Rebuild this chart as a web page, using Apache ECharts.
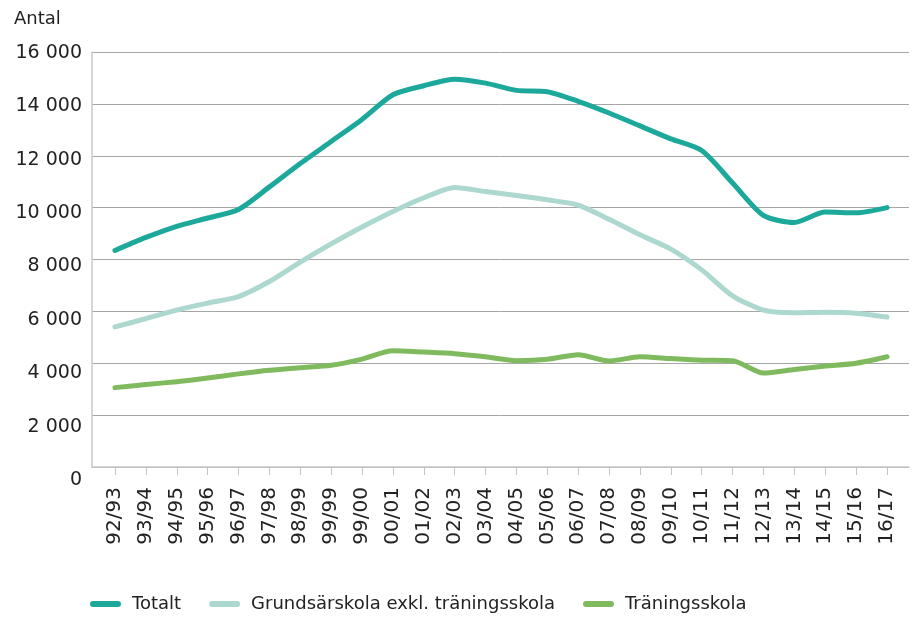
<!DOCTYPE html>
<html>
<head>
<meta charset="utf-8">
<script src="https://cdn.jsdelivr.net/npm/echarts@6/dist/echarts.min.js"></script>
<style>
  html, body { margin: 0; padding: 0; background: #fff; }
  #chart { width: 916px; height: 617px; }
</style>
</head>
<body>
<div id="chart"></div>
<script>
const categories = ['92/93','93/94','94/95','95/96','96/97','97/98','98/99','99/99','99/00','00/01','01/02','02/03','03/04','04/05','05/06','06/07','07/08','08/09','09/10','10/11','11/12','12/13','13/14','14/15','15/16','16/17'];
const totalt = [8350, 8850, 9280, 9600, 9930, 10800, 11700, 12550, 13400, 14350, 14700, 14950, 14800, 14520, 14470, 14100, 13650, 13150, 12650, 12200, 10950, 9700, 9430, 9830, 9800, 10000];
const grundsarskola = [5400, 5720, 6050, 6320, 6570, 7150, 7900, 8600, 9250, 9850, 10380, 10780, 10620, 10470, 10300, 10100, 9550, 8950, 8400, 7600, 6600, 6050, 5950, 5970, 5930, 5780];
const traningsskola = [3060, 3180, 3290, 3430, 3590, 3730, 3830, 3920, 4160, 4480, 4430, 4370, 4250, 4100, 4150, 4330, 4090, 4250, 4180, 4120, 4100, 3620, 3760, 3890, 4000, 4250];
const seriesNames = ['Totalt', 'Grundsärskola exkl. träningsskola', 'Träningsskola'];
const colors = ['#1ca99b', '#acd8cf', '#7fbb5e'];

const FONT = 'DejaVu Sans';
const chart = echarts.init(document.getElementById('chart'), null, { renderer: 'canvas' });

function lineSeries(name, data, color) {
  return {
    name: name,
    type: 'line',
    xAxisIndex: 1,
    yAxisIndex: 1,
    data: data,
    smooth: 0.25,
    showSymbol: false,
    symbol: 'none',
    lineStyle: { color: color, width: 5, cap: 'round', join: 'round' },
    itemStyle: { color: color },
    emphasis: { disabled: true },
    animation: false
  };
}

chart.setOption({
  animation: false,
  title: {
    text: 'Antal',
    left: 9,
    top: 5,
    textStyle: { fontFamily: FONT, fontSize: 18, fontWeight: 'normal', color: '#222' }
  },
  legend: {
    left: 85,
    top: 590,
    itemWidth: 31,
    itemHeight: 6,
    itemGap: 28,
    icon: 'path://M3,0 H28 A3,3 0 0 1 28,6 H3 A3,3 0 0 1 3,0 Z',
    textStyle: { fontFamily: FONT, fontSize: 18, color: '#222', padding: [0, 0, 0, 6] },
    data: seriesNames
  },
  grid: [
    { left: 92, right: 7, top: 52, bottom: 150 },
    { left: 99.55, right: 13.55, top: 52, bottom: 150 },
    { left: 92, right: 7, top: 53, bottom: 137 }
  ],
  xAxis: [
    {
      gridIndex: 0, type: 'value', min: 0, max: 1,
      axisLine: { show: true, onZero: false, lineStyle: { color: '#c9c9c9', width: 1.5 } },
      axisTick: { show: false }, axisLabel: { show: false }, splitLine: { show: false }
    },
    {
      gridIndex: 1, type: 'category', data: categories, boundaryGap: true,
      axisLine: { show: false },
      axisTick: { show: true, alignWithLabel: true, length: 8, lineStyle: { color: '#c4c4c4', width: 1 } },
      axisLabel: { rotate: 90, margin: 20, interval: 0, fontFamily: FONT, fontSize: 20, color: '#222' },
      splitLine: { show: false }
    },
    {
      gridIndex: 2, type: 'value', min: 0, max: 1, show: false
    }
  ],
  yAxis: [
    {
      gridIndex: 0, type: 'value', min: 0, max: 16000, interval: 2000,
      axisLine: { show: true, lineStyle: { color: '#c9c9c9', width: 1.5 } },
      axisTick: { show: false }, axisLabel: { show: false },
      splitLine: { show: true, lineStyle: { color: '#a6a6a6', width: 1 } }
    },
    {
      gridIndex: 1, type: 'value', min: 0, max: 16000, interval: 2000, show: false
    },
    {
      gridIndex: 2, type: 'value', min: 0, max: 16000, interval: 2000,
      axisLine: { show: false }, axisTick: { show: false }, splitLine: { show: false },
      axisLabel: {
        margin: 10, fontFamily: FONT, fontSize: 19, color: '#222',
        formatter: function (v) { return v === 0 ? '0' : String(v).replace(/\B(?=(\d{3})+(?!\d))/g, ' '); }
      }
    }
  ],
  series: [
    lineSeries(seriesNames[0], totalt, colors[0]),
    lineSeries(seriesNames[1], grundsarskola, colors[1]),
    lineSeries(seriesNames[2], traningsskola, colors[2])
  ]
});
</script>
</body>
</html>
